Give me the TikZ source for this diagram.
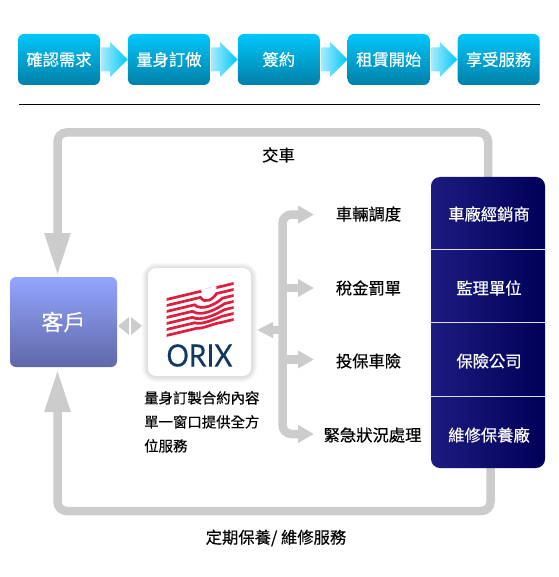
\documentclass[tikz,border=0pt]{standalone}
\usepackage{fontspec}
\setmainfont{Noto Sans CJK TC}[RawFeature={embolden=0.35}]
\newfontfamily\logofont{Lato}[RawFeature={embolden=0.25}]
\usepackage{xcolor}
\usetikzlibrary{arrows.meta,positioning,calc}
\definecolor{flowtop}{RGB}{0,198,250}
\definecolor{flowbot}{RGB}{0,128,168}
\definecolor{bandgray}{RGB}{204,204,204}
\definecolor{navytop}{RGB}{28,28,128}
\definecolor{navyend}{RGB}{0,0,88}
\definecolor{clienttop}{RGB}{148,165,255}
\definecolor{clientbot}{RGB}{96,104,168}
\definecolor{oxred}{RGB}{222,30,60}
\definecolor{oxnavy}{RGB}{16,56,100}
\begin{document}
\begin{tikzpicture}[x=1pt,y=-1pt,node distance=27.5pt,
          stepbox/.style={rounded corners=6pt,minimum width=82pt,minimum height=51pt,
                      inner sep=0pt,top color=flowtop,bottom color=flowbot,
                      text=white,font=\fontsize{16.3}{16.3}\selectfont},
          stepflow/.style={left color=flowtop!35,right color=flowtop},
          band/.style={draw=bandgray,line width=8.5pt,rounded corners=9pt},
          bigtip/.style={-{Triangle[length=43pt,width=24pt]}},
          smalltip/.style={-{Triangle[length=16pt,width=17pt]}},
          vendor/.style={minimum width=114pt,minimum height=73pt,inner sep=0pt,
                      text=white,font=\fontsize{16.3}{16.3}\selectfont},
          item/.style={inner sep=0pt,font=\fontsize{16.3}{16.3}\selectfont}]
        \useasboundingbox (0,0) rectangle (558,577);
        % top row
        \node[stepbox] (s1) at (59,59.5) {確認需求};
        \node[stepbox,right=of s1] (s2) {量身訂做};
        \node[stepbox,right=of s2] (s3) {簽約};
        \node[stepbox,right=of s3] (s4) {租賃開始};
        \node[stepbox,right=of s4] (s5) {享受服務};
        \foreach \a/\b in {s1/s2,s2/s3,s3/s4,s4/s5}
          \shade[stepflow] ([yshift=12pt,xshift=1pt]\a.east) -- ++(9,0) -- ++(0,-5.5)
            -- (\b.west) -- ([yshift=-17.5pt,xshift=10pt]\a.east) -- ++(0,-5.5) -- ++(-9,0) -- cycle;
        \coordinate (ruleL) at (19,105);
        \coordinate (ruleR) at (540,105);
        \draw[line width=1pt] (ruleL) -- (ruleR);

        % loop
        \node[item] (handover) at (278.5,155) {交車};
        \node[item] (upkeep) at (276,538) {定期保養/ 維修服務};
        \coordinate (loopA) at (488,180);
        \coordinate (loopB) at (57.5,276);
        \coordinate (loopC) at (490.5,466);
        \coordinate (loopD) at (57.5,369);
        \draw[band,bigtip] (loopA) -- (488,132.5) -- (57.5,132.5) -- (loopB);
        \draw[band,bigtip] (loopC) -- (490.5,511) -- (57.5,511) -- (loopD);

        % right column
        \shade[rounded corners=9pt,left color=navytop,right color=navyend]
          (431,177) rectangle (545,468);
        \node[vendor] (v1) at (489,214) {車廠經銷商};
        \node[vendor] (v2) at (489,288) {監理單位};
        \node[vendor] (v3) at (489,361) {保險公司};
        \node[vendor] (v4) at (489,435) {維修保養廠};
        \foreach \y in {249.5,322.5,396.5}
          \draw[white!85!navytop,line width=1.4pt] (431,\y) -- (545,\y);

        % left side
        \node[rounded corners=6pt,minimum width=107pt,minimum height=90pt,inner sep=0pt,
              top color=clienttop,bottom color=clientbot,
              text=white,font=\fontsize{22}{22}\selectfont] (client) at (63.5,322) {客戶};
        \foreach \g in {1,...,6}
          \fill[black,opacity=.025,rounded corners=8pt+\g pt]
            (148-\g,268-\g+1) rectangle (251+\g,376+\g);
        \node[fill=white,rounded corners=8pt,minimum width=103pt,minimum height=108pt,
              inner sep=0pt] (orix) at (199.5,322) {};
        % logo
        \begin{scope}
          \clip (166.5,298) -- (233.5,282) -- (233.5,322) -- (166.5,338) -- cycle;
          \draw[oxred,line width=2.7pt] (160,{299.5+6.5*16/67}) -- (240,{299.5-73.5*16/67});
          \fill[white] (208.5,287.5) circle (8);
          \foreach \i/\s/\w in {1/5/8,2/5/14,3/4.5/16,4/3.5/16,5/2/14,6/0.5/12} {
            \pgfmathsetmacro{\ya}{299.5+\i*6+6.5*16/67}
            \pgfmathsetmacro{\yb}{299.5+\i*6-(208.5-\w-166.5)*16/67}
            \pgfmathsetmacro{\yc}{299.5+\i*6-(208.5+\w-166.5)*16/67}
            \pgfmathsetmacro{\yd}{299.5+\i*6-73.5*16/67}
            \draw[oxred,line width=2.7pt] (160,\ya) -- (208.5-\w,\yb)
              .. controls (208.5-\w/2,\yb+\s*1.3) and (208.5+\w/2,\yc+\s*1.3) .. (208.5+\w,\yc)
              -- (240,\yd);
          }
        \end{scope}
        \node[inner sep=0pt,text=oxnavy,yscale=1.1,font=\logofont\fontsize{28}{28}\selectfont] (orixname)
          at (199.5,355.5) {ORIX};
        \node[inner sep=0pt,align=left,anchor=north west,
              font=\fontsize{14.4}{24}\selectfont] (orixnote) at (144,391)
          {量身訂製合約內容\\單一窗口提供全方\\位服務};

        % middle labels
        \node[item] (t1) at (368.5,214) {車輛調度};
        \node[item] (t2) at (368.5,288) {稅金罰單};
        \node[item] (t3) at (368.5,361) {投保車險};
        \node[item] (t4) at (372.5,435) {緊急狀況處理};
        \coordinate (busMid) at (282.5,330);
        \coordinate (busA) at (282.5,288);
        \coordinate (busB) at (282.5,359.5);
        \coordinate (tipA) at (314,214.5);
        \coordinate (tipB) at (314,288);
        \coordinate (tipC) at (314,359.5);
        \coordinate (tipD) at (314,434);
        \draw[band,-{Triangle[length=16pt,width=15pt]}] (busMid) -- (257,330);
        \draw[band,smalltip] (busMid) |- (tipA);
        \draw[band,smalltip] (busMid) |- (tipD);
        \draw[band,smalltip] (busA) -- (tipB);
        \draw[band,smalltip] (busB) -- (tipC);

        % client <-> orix
        \coordinate (gap) at (130,326);
        \fill[bandgray] (gap) ++(-1,-9) -- (118,326) -- (129,335) -- cycle;
        \fill[bandgray] (gap) ++(1,-9) -- (142,326) -- (131,335) -- cycle;
      \end{tikzpicture}
\end{document}
